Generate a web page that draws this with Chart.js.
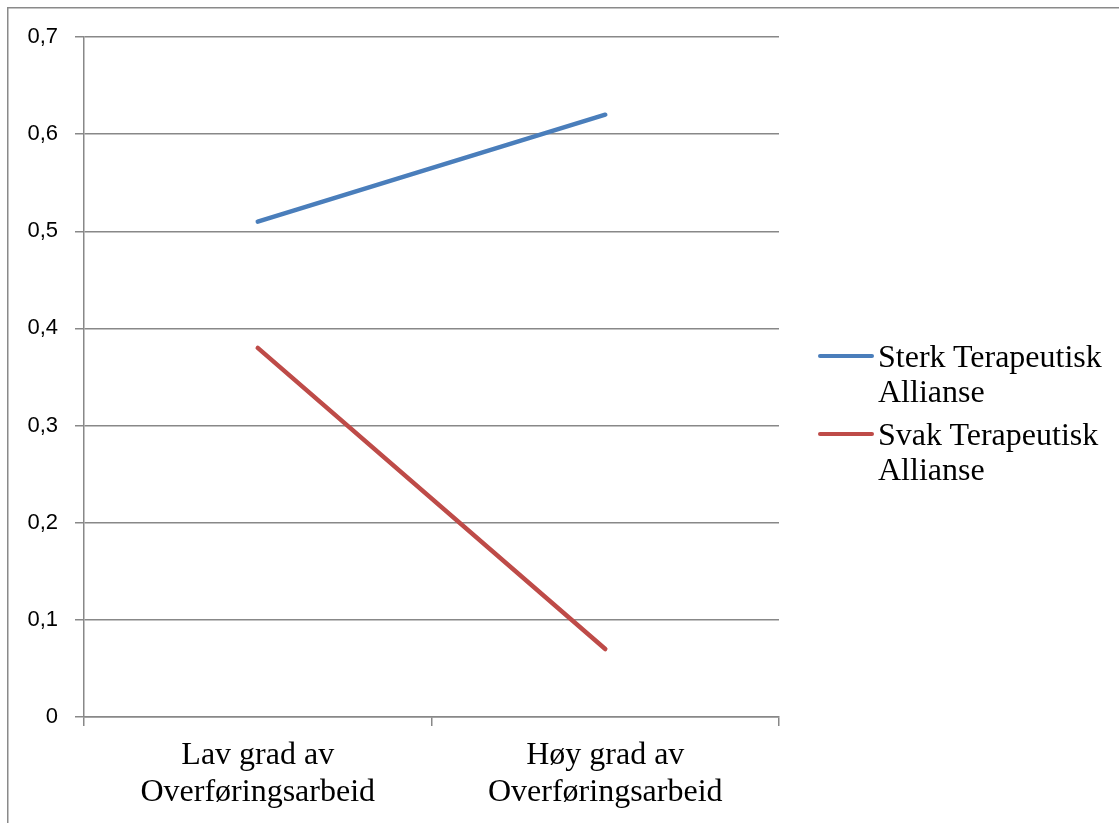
<!DOCTYPE html>
<html lang="no">
<head>
    <meta charset="UTF-8">
    <title>Overføringsarbeid</title>
    <script src="https://cdn.jsdelivr.net/npm/chart.js"></script>
    <style>
        html, body {
            margin: 0;
            padding: 0;
            background: #fff;
        }
        #wrap {
            position: relative;
            width: 1119px;
            height: 823px;
            overflow: hidden;
        }
        #legend {
            position: absolute;
            left: 818px;
            top: 339px;
            font-family: "Liberation Serif", "Times New Roman", serif;
            font-size: 32px;
            line-height: 35px;
            color: #000;
        }
        .item {
            display: flex;
            align-items: flex-start;
            margin-bottom: 8px;
        }
        .swatch {
            width: 56px;
            height: 4px;
            border-radius: 2px;
            margin-top: 15px;
            margin-right: 4px;
            flex: none;
        }
        .label {
            width: 240px;
        }
    </style>
</head>
<body>
    <div id="wrap">
        <canvas id="myChart" width="1119" height="823"></canvas>
        <div id="legend"></div>
    </div>

    <script>
        const categories = [
            ['Lav grad av', 'Overføringsarbeid'],
            ['Høy grad av', 'Overføringsarbeid']
        ];
        const seriesNames = ['Sterk Terapeutisk Allianse', 'Svak Terapeutisk Allianse'];
        const sterk = [0.51, 0.62];
        const svak = [0.38, 0.07];
        const colors = ['#4A7EBB', '#BE4B48'];

        // frame line at the top and left of the picture
        const framePlugin = {
            id: 'frame',
            beforeDraw(chart) {
                const c = chart.ctx;
                c.save();
                c.strokeStyle = '#8a8a8a';
                c.lineWidth = 1.5;
                c.beginPath();
                c.moveTo(7.75, 823);
                c.lineTo(7.75, 7.75);
                c.lineTo(1119, 7.75);
                c.stroke();
                c.restore();
            }
        };

        const ctx = document.getElementById('myChart').getContext('2d');
        const myChart = new Chart(ctx, {
            type: 'line',
            data: {
                labels: categories,
                datasets: [
                    {
                        label: seriesNames[0],
                        data: sterk,
                        borderColor: colors[0],
                        backgroundColor: colors[0],
                        borderWidth: 4.5,
                        pointRadius: 0,
                        borderCapStyle: 'round',
                        tension: 0
                    },
                    {
                        label: seriesNames[1],
                        data: svak,
                        borderColor: colors[1],
                        backgroundColor: colors[1],
                        borderWidth: 4.5,
                        pointRadius: 0,
                        borderCapStyle: 'round',
                        tension: 0
                    }
                ]
            },
            options: {
                responsive: false,
                animation: false,
                layout: {
                    padding: { top: 37, right: 340, bottom: 0, left: 0 }
                },
                plugins: {
                    legend: { display: false },
                    tooltip: { enabled: false }
                },
                scales: {
                    x: {
                        offset: true,
                        grid: {
                            offset: true,
                            drawOnChartArea: false,
                            color: '#888',
                            lineWidth: 1.5,
                            tickLength: 9
                        },
                        border: { color: '#888', width: 1.5 },
                        ticks: {
                            color: '#000',
                            padding: 11,
                            maxRotation: 0,
                            font: { family: '"Liberation Serif", "Times New Roman", serif', size: 32, lineHeight: 1.16 }
                        },
                        afterFit(scale) { scale.height = 106; }
                    },
                    y: {
                        min: 0,
                        max: 0.7,
                        ticks: {
                            stepSize: 0.1,
                            color: '#000',
                            padding: 17,
                            font: { family: '"Liberation Sans", Arial, sans-serif', size: 22 },
                            callback: v => (Math.round(v * 10) / 10).toString().replace('.', ',')
                        },
                        grid: {
                            color: '#888',
                            lineWidth: 1.5,
                            tickLength: 9
                        },
                        border: { color: '#888', width: 1.5 },
                        afterFit(scale) { scale.width = 84; }
                    }
                }
            },
            plugins: [framePlugin]
        });

        const legend = document.getElementById('legend');
        myChart.data.datasets.forEach(ds => {
            const item = document.createElement('div');
            item.className = 'item';
            item.innerHTML = `<span class="swatch" style="background:${ds.borderColor}"></span><span class="label">${ds.label}</span>`;
            legend.appendChild(item);
        });
    </script>
</body>
</html>
